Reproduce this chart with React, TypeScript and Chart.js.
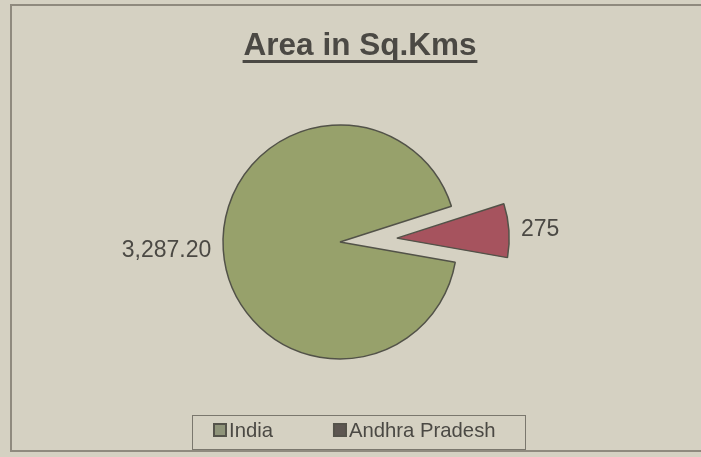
import { useEffect, useRef } from 'react';
import { Chart, registerables } from 'chart.js';

Chart.register(...registerables);

// ---- data ----
const categories = ['India', 'Andhra Pradesh'];
const areaValues = [3287.2, 275];
const valueDecimals = [2, 0];
const chartTitle = 'Area in Sq.Kms';

// ---- styles ----
const SLICE_COLORS = ['#97a16b', '#a6535e'];
const LEGEND_FILLS = ['#8f947a', '#5d5651'];
const BG = '#d5d1c2';
const FRAME = '#8f8a7e';
const INK = '#4b4944';
const OUTLINE = '#525248';
const FONT = '"Liberation Sans", Arial, Helvetica, sans-serif';

function formatValue(v: number, d: number): string {
  return v.toLocaleString('en-US', { minimumFractionDigits: d, maximumFractionDigits: d });
}

const backgroundPlugin = {
  id: 'bgFrame',
  beforeDraw(chart: any) {
    const { ctx, width, height } = chart;
    ctx.save();
    ctx.fillStyle = BG;
    ctx.fillRect(0, 0, width, height);
    ctx.strokeStyle = FRAME;
    ctx.lineWidth = 2;
    ctx.strokeRect(11, 5, width + 20, 446);
    ctx.restore();
  },
};

const explodePlugin = {
  id: 'explodeSlice',
  afterDatasetsUpdate(chart: any, _args: any, opts: any) {
    const meta = chart.getDatasetMeta(0);
    const { chartArea } = chart;
    const cx = (chartArea.left + chartArea.right) / 2;
    const cy = (chartArea.top + chartArea.bottom) / 2;
    meta.data.forEach((el: any, i: number) => {
      const d = (opts.distance && opts.distance[i]) || 0;
      if (!d) return;
      const mid = (el.startAngle + el.endAngle) / 2;
      el.x = cx + Math.cos(mid) * d;
      el.y = cy + Math.sin(mid) * d;
      el.outerRadius = el.outerRadius * (opts.radiusScale || 1);
    });
  },
};

const valueLabelPlugin = {
  id: 'valueLabels',
  afterDatasetsDraw(chart: any, _args: any, opts: any) {
    const { ctx } = chart;
    const meta = chart.getDatasetMeta(0);
    const values = chart.data.datasets[0].data as number[];
    ctx.save();
    ctx.font = `${opts.size}px ${FONT}`;
    ctx.fillStyle = INK;
    ctx.textBaseline = 'middle';
    meta.data.forEach((el: any, i: number) => {
      const mid = (el.startAngle + el.endAngle) / 2;
      const r = el.outerRadius + opts.pad;
      const x = el.x + Math.cos(mid) * r;
      const y = el.y + Math.sin(mid) * r;
      ctx.textAlign = Math.cos(mid) < 0 ? 'right' : 'left';
      ctx.fillText(formatValue(values[i], valueDecimals[i]), x, y);
    });
    ctx.restore();
  },
};

const underlinedTitlePlugin = {
  id: 'underlinedTitle',
  afterDraw(chart: any, _args: any, opts: any) {
    const { ctx } = chart;
    ctx.save();
    ctx.font = `bold ${opts.size}px ${FONT}`;
    ctx.fillStyle = INK;
    ctx.textAlign = 'center';
    ctx.textBaseline = 'alphabetic';
    ctx.fillText(opts.text, opts.x, opts.baseline);
    const w = ctx.measureText(opts.text).width;
    ctx.strokeStyle = INK;
    ctx.lineWidth = 3;
    ctx.beginPath();
    ctx.moveTo(opts.x - w / 2 - 1, opts.baseline + 6.5);
    ctx.lineTo(opts.x + w / 2 + 1, opts.baseline + 6.5);
    ctx.stroke();
    ctx.restore();
  },
};

const boxedLegendPlugin = {
  id: 'boxedLegend',
  afterDraw(chart: any, _args: any, opts: any) {
    const { ctx } = chart;
    const labels = chart.data.labels as string[];
    ctx.save();
    ctx.strokeStyle = '#7a776d';
    ctx.lineWidth = 1;
    ctx.strokeRect(opts.left + 0.5, opts.top + 0.5, opts.width, opts.height);
    ctx.font = `${opts.size}px ${FONT}`;
    ctx.textBaseline = 'alphabetic';
    ctx.textAlign = 'left';
    let x = opts.left + opts.startPad;
    const sq = opts.box;
    const sqTop = opts.top + 8;
    labels.forEach((label, i) => {
      ctx.fillStyle = LEGEND_FILLS[i];
      ctx.fillRect(x, sqTop, sq, sq);
      ctx.strokeStyle = '#55534b';
      ctx.lineWidth = 2;
      ctx.strokeRect(x + 1, sqTop + 1, sq - 2, sq - 2);
      ctx.fillStyle = INK;
      ctx.fillText(label, x + sq + 2, opts.top + 22);
      x += sq + 2 + ctx.measureText(label).width + opts.gap;
    });
    ctx.restore();
  },
};

export default function App() {
  const canvasRef = useRef<HTMLCanvasElement | null>(null);

  useEffect(() => {
    if (!canvasRef.current) return;
    const chart = new Chart(canvasRef.current, {
      type: 'pie',
      data: {
        labels: categories,
        datasets: [
          {
            data: areaValues,
            backgroundColor: SLICE_COLORS,
            borderColor: OUTLINE,
            borderWidth: 1.5,
            radius: 117,
            rotation: 100,
          } as any,
        ],
      },
      options: {
        responsive: false,
        animation: false,
        events: [],
        layout: { padding: { top: 80, bottom: 53, left: 0, right: 21 } },
        plugins: {
          legend: { display: false },
          title: { display: false },
          tooltip: { enabled: false },
          explodeSlice: { distance: [0, 57], radiusScale: 0.96 },
          valueLabels: { size: 23, pad: 12 },
          underlinedTitle: { text: chartTitle, size: 31.5, x: 360, baseline: 55 },
          boxedLegend: { left: 192, top: 415, width: 333, height: 34, size: 20.3, box: 14, startPad: 21, gap: 60 },
        } as any,
      },
      plugins: [backgroundPlugin, explodePlugin, valueLabelPlugin, underlinedTitlePlugin, boxedLegendPlugin],
    });
    return () => chart.destroy();
  }, []);

  return (
    <div style={{ position: 'absolute', left: 0, top: 0, width: 701, height: 457 }}>
      <canvas ref={canvasRef} width={701} height={457} />
    </div>
  );
}
